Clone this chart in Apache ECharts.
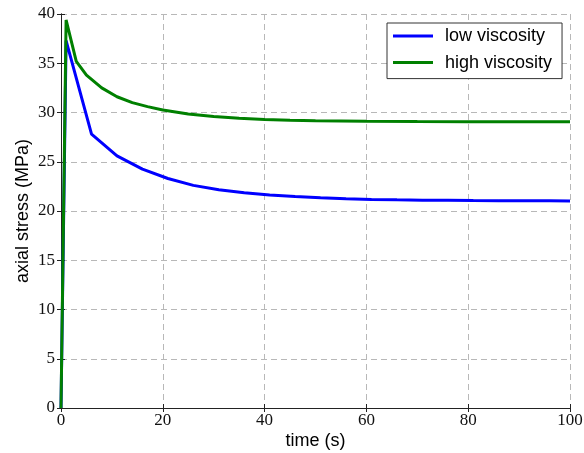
<!DOCTYPE html>
<html>
<head>
<meta charset="utf-8">
<script src="https://cdn.jsdelivr.net/npm/echarts@6/dist/echarts.min.js"></script>
<style>html,body{margin:0;padding:0;background:#fff;}#c{width:584px;height:453px;}</style>
</head>
<body>
<div id="c"></div>
<script>
var lowTime = [0, 1, 6, 11, 16, 21, 26, 31, 36, 41, 46, 51, 56, 61, 66, 71, 76, 81, 86, 91, 96, 100];
var lowStress = [0, 37.3, 27.8, 25.6, 24.25, 23.3, 22.6, 22.15, 21.85, 21.62, 21.46, 21.34, 21.25, 21.18, 21.13, 21.1, 21.08, 21.06, 21.05, 21.04, 21.03, 21.02];
var highTime = [0, 1, 3, 5, 8, 11, 14, 17, 20, 25, 30, 35, 40, 45, 50, 60, 70, 80, 90, 100];
var highStress = [0, 39.4, 35.2, 33.8, 32.5, 31.6, 31.0, 30.6, 30.25, 29.85, 29.6, 29.42, 29.3, 29.22, 29.16, 29.1, 29.08, 29.07, 29.06, 29.06];
var xTicks = [0, 20, 40, 60, 80, 100];
var yTicks = [0, 5, 10, 15, 20, 25, 30, 35, 40];
var seriesNames = ['low viscosity', 'high viscosity'];

function pairs(t, v) { return t.map(function (x, i) { return [x, v[i]]; }); }

var chart = echarts.init(document.getElementById('c'));
var spine = '#222';
var gridLine = { show: true, lineStyle: { color: '#b8b8b8', type: [6, 4], width: 1 } };
var tickFont = { fontFamily: 'Liberation Serif', fontSize: 17, color: '#111' };
chart.setOption({
  animation: false,
  backgroundColor: '#fff',
  grid: { left: 61, right: 14, top: 14, bottom: 45, containLabel: false, outerBoundsMode: 'none' },
  legend: {
    orient: 'vertical',
    left: 387, top: 23,
    data: seriesNames,
    icon: 'rect',
    itemWidth: 40, itemHeight: 3,
    itemGap: 6.6,
    padding: [3, 10, 6, 6],
    borderColor: '#333', borderWidth: 1,
    backgroundColor: '#fff',
    textStyle: { fontFamily: 'Liberation Sans', fontSize: 18, color: '#000', lineHeight: 20, padding: [0, 0, 0, 7] }
  },
  xAxis: [{
    type: 'value', position: 'bottom', min: 0, max: 100, interval: 20,
    name: 'time (s)', nameLocation: 'middle', nameGap: 24, nameMoveOverlap: false,
    nameTextStyle: { fontFamily: 'Liberation Sans', fontSize: 18, color: '#000' },
    axisLine: { show: true, lineStyle: { color: spine, width: 1 } },
    axisTick: { show: true, inside: true, length: 4, lineStyle: { color: spine } },
    axisLabel: Object.assign({ margin: 4, formatter: function (v) { return xTicks.indexOf(v) >= 0 ? String(v) : ''; } }, tickFont),
    splitLine: gridLine
  }, {
    type: 'value', position: 'top', min: 0, max: 100, interval: 20,
    axisLine: { show: true, lineStyle: { color: spine, width: 1 } },
    axisTick: { show: true, inside: true, length: 4, lineStyle: { color: spine } },
    axisLabel: { show: false }, splitLine: { show: false }
  }],
  yAxis: [{
    type: 'value', position: 'left', min: 0, max: 40, interval: 5,
    name: 'axial stress (MPa)', nameLocation: 'middle', nameGap: 29, nameMoveOverlap: false,
    nameTextStyle: { fontFamily: 'Liberation Sans', fontSize: 18, color: '#000' },
    axisLine: { show: true, lineStyle: { color: spine, width: 1 } },
    axisTick: { show: true, inside: true, length: 4, lineStyle: { color: spine } },
    axisLabel: Object.assign({ margin: 6, formatter: function (v) { return yTicks.indexOf(v) >= 0 ? String(v) : ''; } }, tickFont),
    splitLine: gridLine
  }, {
    type: 'value', position: 'right', min: 0, max: 40, interval: 5,
    axisLine: { show: true, lineStyle: { color: spine, width: 1 } },
    axisTick: { show: true, inside: true, length: 4, lineStyle: { color: spine } },
    axisLabel: { show: false }, splitLine: { show: false }
  }],
  series: [{
    name: seriesNames[0], type: 'line', showSymbol: false, symbol: 'none',
    data: pairs(lowTime, lowStress),
    lineStyle: { color: '#0000ff', width: 3 }, itemStyle: { color: '#0000ff' }, z: 3
  }, {
    name: seriesNames[1], type: 'line', showSymbol: false, symbol: 'none',
    data: pairs(highTime, highStress),
    lineStyle: { color: '#008000', width: 3 }, itemStyle: { color: '#008000' }, z: 4
  }]
});
</script>
</body>
</html>
